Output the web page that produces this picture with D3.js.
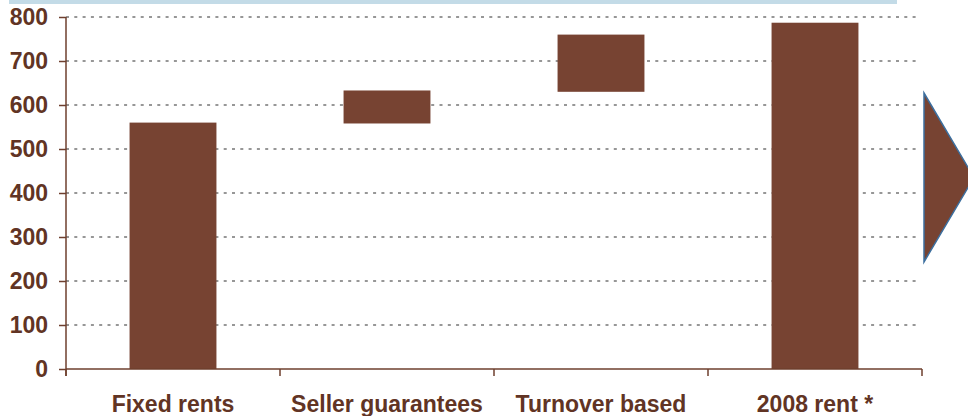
<!DOCTYPE html>
<html>
<head>
<meta charset="utf-8">
<script src="https://cdn.jsdelivr.net/npm/d3@7"></script>
<style>
  html, body { margin: 0; padding: 0; background: #fff; }
  svg { display: block; font-family: 'Liberation Sans', Arial, sans-serif; }
</style>
</head>
<body>
<svg></svg>
<script>
const WIDTH = 968;
const HEIGHT = 416;
const MARGINS = { left: 66, top: 17, right: 46, bottom: 47 };
const BAR_COLOR = '#774332';
const TEXT_COLOR = '#613424';
const AXIS_COLOR = '#6e3f2e';

// waterfall steps: each bar runs from its base to its top
const categories = ['Fixed rents', 'Seller guarantees', 'Turnover based', '2008 rent *'];
const bases = [0, 558, 630, 0];
const tops = [560, 633, 760, 787];
const yTicks = [0, 100, 200, 300, 400, 500, 600, 700, 800];

const graphWidth = WIDTH - MARGINS.left - MARGINS.right;
const graphHeight = HEIGHT - MARGINS.top - MARGINS.bottom;

const svg = d3.select('svg').attr('width', WIDTH).attr('height', HEIGHT);

// light blue strip along the top
svg.append('rect')
  .attr('x', 9).attr('y', 0)
  .attr('width', 888).attr('height', 4)
  .attr('fill', '#c3dbe7');

const graph = svg.append('g')
  .attr('transform', `translate(${MARGINS.left}, ${MARGINS.top})`);

const y = d3.scaleLinear().domain([0, 800]).range([graphHeight, 0]);
const x = d3.scaleBand()
  .domain(categories)
  .range([0, graphWidth])
  .paddingInner(0.594)
  .paddingOuter(0.297);

// dotted grid
graph.append('g')
  .selectAll('line')
  .data(yTicks.filter((d) => d > 0))
  .enter()
  .append('line')
  .attr('x1', 0)
  .attr('x2', graphWidth - 2)
  .attr('y1', (d) => y(d))
  .attr('y2', (d) => y(d))
  .attr('stroke', '#979797')
  .attr('stroke-width', 2)
  .attr('stroke-dasharray', '3,5.3');

// bars
graph.selectAll('rect.bar')
  .data(categories)
  .enter()
  .append('rect')
  .attr('class', 'bar')
  .attr('x', (d) => x(d))
  .attr('width', x.bandwidth())
  .attr('y', (d, i) => y(tops[i]))
  .attr('height', (d, i) => y(bases[i]) - y(tops[i]))
  .attr('fill', BAR_COLOR);

// y axis
const yAxis = d3.axisLeft(y).tickValues(yTicks).tickSize(7).tickPadding(11);
const yAxisGroup = graph.append('g').call(yAxis);
yAxisGroup.select('.domain').remove();
yAxisGroup.append('line')
  .attr('x1', 0).attr('x2', 0)
  .attr('y1', 0).attr('y2', graphHeight + 7)
  .attr('stroke', AXIS_COLOR).attr('stroke-width', 1.5);

// x axis with ticks between categories
const step = x.step();
const xEdges = d3.range(categories.length + 1).map((i) => i * step);
const xAxisGroup = graph.append('g').attr('transform', `translate(0, ${graphHeight})`);
xAxisGroup.append('line')
  .attr('x1', 0).attr('x2', graphWidth)
  .attr('stroke', AXIS_COLOR).attr('stroke-width', 1.5);
xAxisGroup.selectAll('line.edge')
  .data(xEdges)
  .enter()
  .append('line')
  .attr('class', 'edge')
  .attr('x1', (d) => d).attr('x2', (d) => d)
  .attr('y1', 0).attr('y2', 7)
  .attr('stroke', AXIS_COLOR).attr('stroke-width', 1.5);
xAxisGroup.selectAll('text')
  .data(categories)
  .enter()
  .append('text')
  .attr('x', (d) => x(d) + x.bandwidth() / 2)
  .attr('y', 42.5)
  .attr('text-anchor', 'middle')
  .text((d) => d);

graph.selectAll('.tick line').attr('stroke', AXIS_COLOR).attr('stroke-width', 1.5);
svg.selectAll('text')
  .attr('fill', TEXT_COLOR)
  .attr('font-size', '23px')
  .attr('font-weight', 'bold')
  .attr('font-family', "'Liberation Sans', Arial, sans-serif");

// arrow marker on the right edge
svg.append('path')
  .attr('d', 'M924,93 L974,177.5 L924,262 Z')
  .attr('fill', BAR_COLOR)
  .attr('stroke', '#3c6f9f')
  .attr('stroke-width', 1.5);
</script>
</body>
</html>
